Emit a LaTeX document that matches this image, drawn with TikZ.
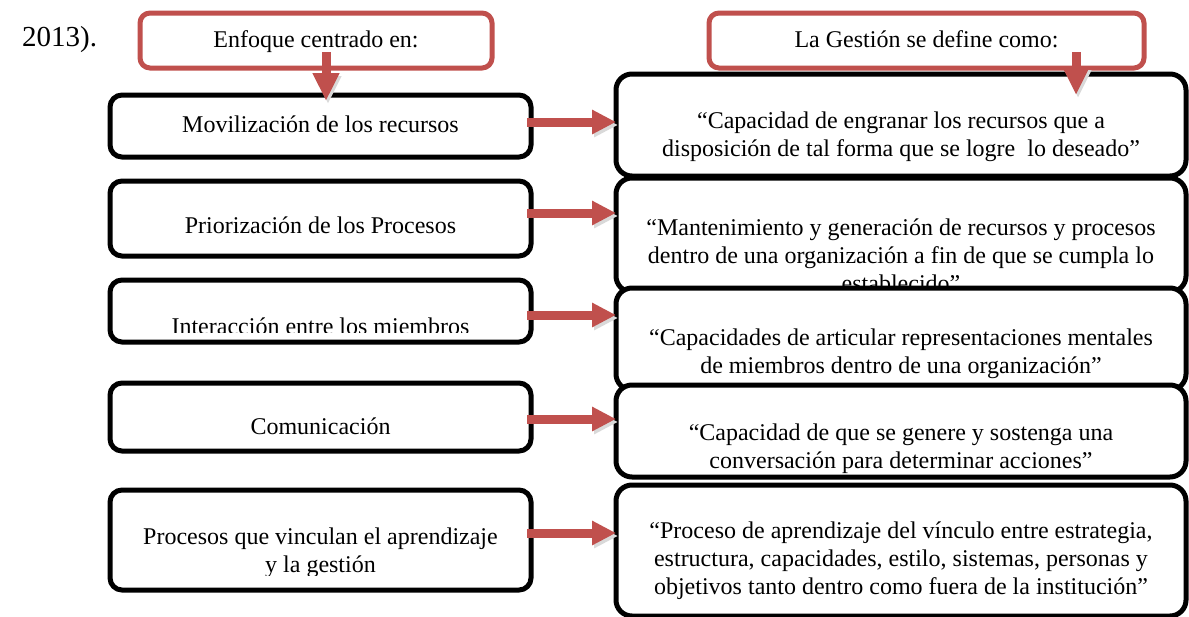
\documentclass[tikz,border=0pt]{standalone}
\usepackage{fontspec}
\setmainfont{Liberation Serif}
\usetikzlibrary{arrows.meta,calc}
\definecolor{accred}{HTML}{C0504D}
\begin{document}
\begin{tikzpicture}[x=1pt,y=-1pt,
  lbox/.style={draw=black, line width=5pt, rounded corners=12pt, fill=white, inner sep=0pt, outer sep=0pt, minimum width=421pt},
  rbox/.style={draw=black, line width=5pt, rounded corners=16pt, fill=white, inner sep=0pt, outer sep=0pt, minimum width=570pt},
  hbox/.style={draw=accred, line width=5pt, rounded corners=10pt, fill=white, inner sep=0pt, outer sep=0pt, minimum height=55pt},
  txt/.style={font=\fontsize{24}{28}\selectfont, inner sep=0pt, anchor=base},
  shadowed/.style={preaction={draw=black!15, transform canvas={xshift=2pt,yshift=-3pt}}},
  harrow/.style={draw=accred, line width=9pt, -{Triangle[length=24pt,width=23pt]}, shadowed},
  varrow/.style={draw=accred, line width=9pt, -{Triangle[length=28pt,width=25pt]}, shadowed}
]
\useasboundingbox (0,0) rectangle (1189,616);
\clip (0,0) rectangle (1189,616);

% left margin text
\node[font=\fontsize{29}{32}\selectfont, inner sep=0pt, anchor=base west] (yr) at (22,46) {2013).};

% header boxes
\node[hbox, minimum width=352pt] (E) at (316,40.5) {};
\node[txt] (Et) at (316,47) {Enfoque centrado en:};
\node[hbox, minimum width=435pt] (G) at (926.5,40.5) {};
\node[txt] (Gt) at (926.5,47) {La Gestión se define como:};

% right column (stacked, later ones on top)
\node[rbox, minimum height=102pt] (R1) at (901,125) {};
\node[txt] (R1a) at (901,128) {“Capacidad de engranar los recursos que a};
\node[txt] (R1b) at (901,156) {disposición de tal forma que se logre \ lo deseado”};

\node[rbox, minimum height=114pt] (R2) at (901,235) {};
\node[txt] (R2a) at (901,235) {“Mantenimiento y generación de recursos y procesos};
\node[txt] (R2b) at (901,263) {dentro de una organización a fin de que se cumpla lo};
\node[txt] (R2c) at (901,291) {establecido”};

\node[rbox, minimum height=102pt] (R3) at (901,339) {};
\node[txt] (R3a) at (901,345) {“Capacidades de articular representaciones mentales};
\node[txt] (R3b) at (901,373) {de miembros dentro de una organización”};

\node[rbox, minimum height=92pt] (R4) at (901,431) {};
\node[txt] (R4a) at (901,440) {“Capacidad de que se genere y sostenga una};
\node[txt] (R4b) at (901,468) {conversación para determinar acciones”};

\node[rbox, minimum height=131pt] (R5) at (901,550.5) {};
\node[txt] (R5a) at (901,538) {“Proceso de aprendizaje del vínculo entre estrategia,};
\node[txt] (R5b) at (901,566) {estructura, capacidades, estilo, sistemas, personas y};
\node[txt] (R5c) at (901,594) {objetivos tanto dentro como fuera de la institución”};

% left column
\node[lbox, minimum height=62pt] (L1) at (320.5,126) {};
\node[txt] (L1t) at (320.5,132) {Movilización de los recursos};
\node[lbox, minimum height=75pt] (L2) at (320.5,218.5) {};
\node[txt] (L2t) at (320.5,233) {Priorización de los Procesos};
\node[lbox, minimum height=62pt] (L3) at (320.5,311) {};
\begin{scope}
  \clip (110,280) rectangle (531,332);
  \node[txt] (L3t) at (320.5,334) {Interacción entre los miembros};
\end{scope}
\node[lbox, minimum height=68pt] (L4) at (320.5,417) {};
\node[txt] (L4t) at (320.5,434) {Comunicación};
\node[lbox, minimum height=100pt] (L5) at (320.5,540) {};
\begin{scope}
  \clip (110,490) rectangle (531,575);
  \node[txt] (L5a) at (320.5,544) {Procesos que vinculan el aprendizaje};
  \node[txt] (L5b) at (320.5,572) {y la gestión};
\end{scope}

% vertical arrows
\draw[varrow] ($(E.south -| 326,0)+(0,-16)$) -- ($(L1.north -| 326,0)+(0,6)$);
\draw[varrow] ($(G.south -| 1076,0)+(0,-16)$) -- ($(R1.north -| 1076,0)+(0,21)$);

% horizontal arrows
\draw[harrow] ($(L1.east |- 0,122)+(-4,0)$) -- (R1.west |- 0,122);
\draw[harrow] ($(L2.east |- 0,213)+(-4,0)$) -- (R2.west |- 0,213);
\draw[harrow] ($(L3.east |- 0,315)+(-4,0)$) -- (R3.west |- 0,315);
\draw[harrow] ($(L4.east |- 0,419)+(-4,0)$) -- (R4.west |- 0,419);
\draw[harrow] ($(L5.east |- 0,533)+(-4,0)$) -- (R5.west |- 0,533);
\end{tikzpicture}
\end{document}
